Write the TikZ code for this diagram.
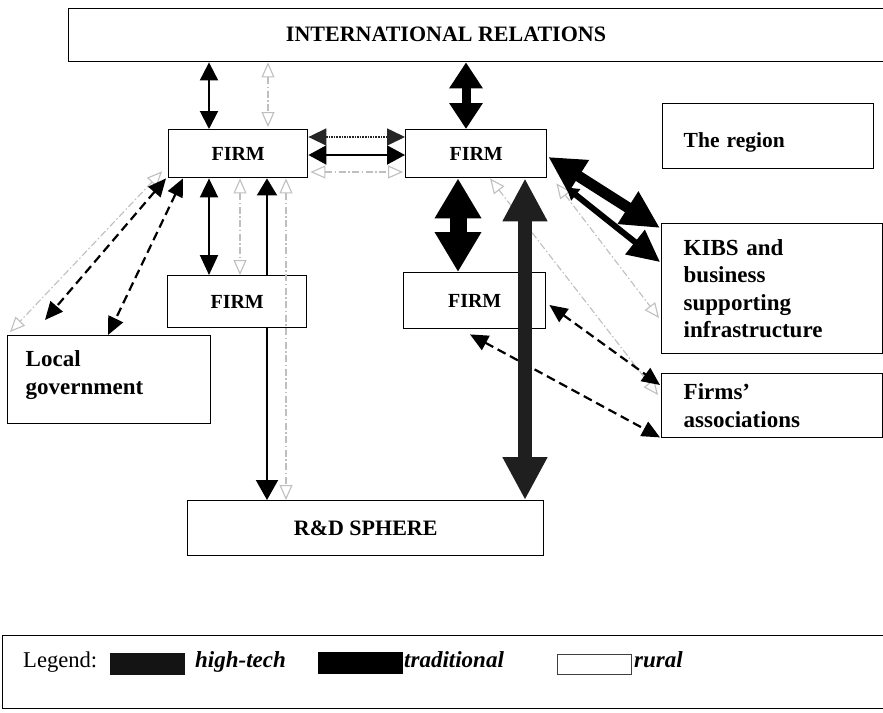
\documentclass[tikz,border=0pt]{standalone}
\usepackage{fontspec}
\setmainfont{Liberation Serif}
\usetikzlibrary{arrows.meta,calc}
\begin{document}
\begin{tikzpicture}[x=1pt,y=-1pt,
  box/.style={draw=black, line width=1.4pt, fill=white, inner sep=0pt, anchor=north west,
    font=\fontsize{20}{24}\selectfont\bfseries},
  bigtext/.style={font=\fontsize{22}{27}\selectfont\bfseries},
  sidetext/.style={font=\fontsize{23}{27.5}\selectfont\bfseries, align=left},
  trad/.style={draw=black, line width=2pt, {Triangle[length=18pt,width=18pt]}-{Triangle[length=18pt,width=18pt]}},
  tradbig/.style={draw=black, line width=9pt, {Triangle[length=26pt,width=32pt]}-{Triangle[length=26pt,width=32pt]}},
  tradhuge/.style={draw=black, line width=17pt, {Triangle[length=40pt,width=44pt]}-{Triangle[length=40pt,width=44pt]}},
  kibsthick/.style={draw=black, line width=11pt, {Triangle[length=36pt,width=36pt]}-{Triangle[length=38pt,width=36pt]}},
  kibsthin/.style={draw=black, line width=6pt, {Triangle[length=12pt,width=14pt]}-{Triangle[length=32pt,width=30pt]}},
  hightech/.style={draw=black!88, line width=14pt, {Triangle[length=43pt,width=42pt]}-{Triangle[length=43pt,width=42pt]}},
  hightechthin/.style={draw=black!85, line width=1.6pt, densely dotted, {Triangle[length=18pt,width=17pt]}-{Triangle[length=18pt,width=17pt]}},
  dashtrad/.style={draw=black, line width=2.2pt, dash pattern=on 9pt off 5pt, {Triangle[length=18pt,width=16pt]}-{Triangle[length=18pt,width=16pt]}},
  rural/.style={draw=gray!50, line width=1.1pt, dash pattern=on 7pt off 2.5pt on 1.5pt off 2.5pt,
    {Triangle[length=15pt,width=13pt,fill=white]}-{Triangle[length=15pt,width=13pt,fill=white]}},
  legtext/.style={anchor=base west, inner sep=0pt, font=\fontsize{23}{27}\selectfont\bfseries\itshape}
]
\fill[white] (0,0) rectangle (883,712);
\useasboundingbox (0,0) rectangle (883,712);

% boxes needed for the hidden connector
\node[box, minimum width=139pt, minimum height=48pt] (firmA) at (168,129) {};
\node[box, minimum width=356pt, minimum height=55pt] (rd) at (187,500) {};

% connector hidden under the lower-left FIRM
\path ($(firmA.south west)+(99,0)$) coordinate (pRD);
\draw[trad, {Triangle[length=17pt,width=20pt]}-{Triangle[length=20pt,width=22pt]}] (pRD) -- (pRD |- rd.north);

\node[box, minimum width=820pt, minimum height=53pt] (ir) at (68,8) {};
\node[bigtext] (irtext) at (446,34) {INTERNATIONAL RELATIONS};
\node[box, minimum width=139pt, minimum height=48pt] (firmA) at (168,129) {FIRM};
\node[box, minimum width=141pt, minimum height=48pt] (firmB) at (405,129) {FIRM};
\node[box, minimum width=139pt, minimum height=52pt] (firmC) at (167,275) {FIRM};
\node[box, minimum width=142pt, minimum height=56pt] (firmD) at (403,272) {FIRM};
\node[box, bigtext, minimum width=356pt, minimum height=55pt] (rd) at (187,500) {R\&D SPHERE};
\node[box, sidetext, minimum width=203pt, minimum height=88pt, text width=167pt, inner xsep=18pt] (lg) at (7,335) {Local\\government\rule[-14pt]{0pt}{0pt}};
\node[box, minimum width=211pt, minimum height=65pt, text width=169pt, inner xsep=21pt, align=left,
      font=\fontsize{21.5}{26}\selectfont\bfseries] (region) at (662,103) {\rule{0pt}{27pt}The region};
\node[box, sidetext, minimum width=221pt, minimum height=130pt, text width=177pt, inner xsep=22pt] (kibs) at (661,223) {KIBS and\\business\\supporting\\infrastructure};
\node[box, sidetext, minimum width=221pt, minimum height=64pt, text width=177pt, inner xsep=22pt] (fa) at (661,373) {Firms'\\associations};

% IR <-> FIRM A
\path ($(firmA.north west)+(41,0)$) coordinate (p1);
\draw[trad] (p1 |- ir.south) -- (p1);
\path ($(firmA.north west)+(100,-2)$) coordinate (p2);
\draw[rural] (p2 |- ir.south) -- (p2);
% IR <-> FIRM B
\path ($(firmB.north west)+(61,0)$) coordinate (p3);
\draw[tradbig] (p3 |- ir.south) -- (p3);

% FIRM A <-> FIRM B
\draw[hightechthin] ($(firmA.north east)+(0,8)$) -- ($(firmB.north west)+(0,8)$);
\draw[trad, {Triangle[length=18pt,width=19pt]}-{Triangle[length=18pt,width=19pt]}] ($(firmA.north east)+(0,26)$) -- ($(firmB.north west)+(0,26)$);
\draw[rural] ($(firmA.north east)+(2,43)$) -- ($(firmB.north west)+(-2,43)$);

% FIRM A <-> FIRM C
\path ($(firmA.south west)+(41,0)$) coordinate (p4);
\draw[trad, {Triangle[length=19pt,width=18pt]}-{Triangle[length=20pt,width=18pt]}] (p4) -- (p4 |- firmC.north);
\path ($(firmA.south west)+(72,0)$) coordinate (p5);
\draw[rural] (p5) -- (p5 |- firmC.north);

% FIRM A <-> R&D rural
\path ($(firmA.south west)+(118,0)$) coordinate (p6);
\draw[rural] (p6) -- (p6 |- rd.north);

% FIRM A <-> Local government
\draw[rural] ($(firmA.south west)+(-6,-7)$) -- ($(lg.north west)+(3,-3)$);
\draw[dashtrad] ($(firmA.south west)+(-2,0)$) -- ($(lg.north west)+(38,-15)$);
\draw[dashtrad] ($(firmA.south west)+(15,0)$) -- ($(lg.north west)+(101,0)$);

% FIRM B <-> FIRM D
\path ($(firmB.south west)+(53,0)$) coordinate (p7);
\draw[tradhuge] (p7) -- (p7 |- firmD.north);

% FIRM B <-> KIBS
\draw[rural] ($(firmB.south east)+(9,5)$) -- ($(kibs.north west)+(-2,95)$);
\draw[kibsthick] ($(firmB.north east)+(1,28)$) -- ($(kibs.north west)+(-1,5)$);
\draw[kibsthin] ($(firmB.south east)+(19,9)$) -- ($(kibs.north west)+(-1,39)$);

% FIRM B <-> Firms' associations (rural)
\draw[rural] ($(firmB.south west)+(85,0)$) -- ($(fa.north west)+(-3,22)$);

% FIRM D <-> Firms' associations
\draw[dashtrad] ($(firmD.north east)+(3,33)$) -- ($(fa.north west)+(-1,12)$);
\draw[dashtrad] ($(firmD.south west)+(67,5)$) -- ($(fa.south west)+(-1,-1)$);

% FIRM B <-> R&D (high-tech)
\path ($(firmB.south west)+(120,0)$) coordinate (p8);
\draw[hightech] (p8) -- (p8 |- rd.north);

% Legend
\node[box, minimum width=884pt, minimum height=73pt] (legend) at (2,635) {};
\node[anchor=base west, inner sep=0pt, font=\fontsize{22.6}{27}\selectfont] (legword) at (23,667) {Legend:};
\node[anchor=north west, fill=black!92, minimum width=75pt, minimum height=22pt, inner sep=0pt] (key1) at (110,653) {};
\node[legtext] (key1t) at (195,667) {high-tech};
\node[anchor=north west, fill=black, minimum width=85pt, minimum height=22pt, inner sep=0pt] (key2) at (318,652) {};
\node[legtext] (key2t) at (404,667) {traditional};
\node[anchor=north west, draw=black!75, line width=1.2pt, fill=white, minimum width=74pt, minimum height=20pt, inner sep=0pt] (key3) at (557,654) {};
\node[legtext] (key3t) at (634,667) {rural};
\end{tikzpicture}
\end{document}
